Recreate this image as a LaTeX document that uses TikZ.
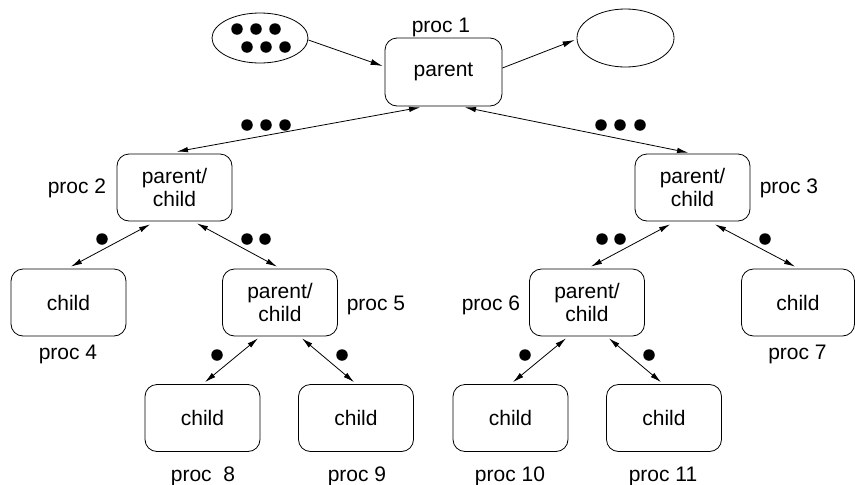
\documentclass[tikz,border=0pt]{standalone}
\usepackage{fontspec}
\setmainfont{Liberation Sans}
\usetikzlibrary{shapes.geometric,arrows.meta}
\tikzset{
  box/.style={draw, rounded corners=12pt, minimum width=115pt, minimum height=67pt,
    inner sep=0pt, align=center, font=\fontsize{21}{23}\selectfont},
  oval/.style={draw, ellipse, inner sep=0pt},
  lbl/.style={anchor=base, inner sep=0pt, font=\fontsize{21}{23}\selectfont},
  dotn/.style={circle, fill=black, inner sep=0pt, minimum size=11.5pt},
  conn/.style={line width=0.8pt, -{Latex[length=12pt,width=6pt]}},
  bconn/.style={line width=0.8pt, {Latex[length=11pt,width=5.5pt]}-{Latex[length=11pt,width=5.5pt]}}
}
\begin{document}
\begin{tikzpicture}[x=1pt,y=-1pt, line width=0.8pt]
\useasboundingbox (0,0) rectangle (855,485);
% ellipses
\node[oval, minimum width=96pt, minimum height=50pt] (e1) at (260,38) {};
\node[oval, minimum width=97pt, minimum height=58pt] (e2) at (625.5,38) {};
\foreach \x/\y [count=\i] in {237/29,256/29,275/29,247/47,266/47,285/47}
  \node[dotn] (ed\i) at (\x,\y) {};
% boxes
\node[box, minimum width=117pt, minimum height=68pt] (root) at (443.5,72) {parent};
\node[box] (p2) at (174.5,187.5) {parent/\\child};
\node[box] (p3) at (692.5,187.5) {parent/\\child};
\node[box] (p4) at (68.5,302.5) {child};
\node[box] (p5) at (280,302.5) {parent/\\child};
\node[box] (p6) at (587,302.5) {parent/\\child};
\node[box, minimum width=113pt] (p7) at (798,302.5) {child};
\node[box] (p8) at (202.5,418) {child};
\node[box] (p9) at (356,418) {child};
\node[box] (p10) at (510.5,418) {child};
\node[box] (p11) at (664,418) {child};
% labels
\node[lbl] (l1) at (441,32) {proc 1};
\node[lbl] (l2) at (77,193) {proc 2};
\node[lbl] (l3) at (789,193) {proc 3};
\node[lbl] (l4) at (68,359) {proc 4};
\node[lbl] (l5) at (376,310) {proc 5};
\node[lbl] (l6) at (491,310) {proc 6};
\node[lbl] (l7) at (797.5,359) {proc 7};
\node[lbl] (l8) at (203,481) {proc~~8};
\node[lbl] (l9) at (357,481) {proc 9};
\node[lbl] (l10) at (510,481) {proc 10};
\node[lbl] (l11) at (663,481) {proc 11};
% top arrows
\draw[conn] ([yshift=-2pt]e1.east) -- ([xshift=-2pt,yshift=6pt]root.west);
\draw[conn] ([yshift=4pt]root.east) -- ([xshift=-2pt,yshift=-2pt]e2.west);
% tree connectors
\draw[bconn] ([xshift=2.5pt,yshift=2pt]p2.north) -- ([xshift=-23.5pt,yshift=-1pt]root.south);
\draw[bconn] ([xshift=-4.5pt,yshift=1pt]p3.north) -- ([xshift=21.5pt,yshift=-1pt]root.south);
\draw[bconn] ([xshift=-24.5pt,yshift=-3pt]p2.south) -- ([xshift=2.5pt,yshift=2pt]p4.north);
\draw[bconn] ([xshift=22.5pt,yshift=-2pt]p2.south) -- ([xshift=-3pt,yshift=2pt]p5.north);
\draw[bconn] ([xshift=-22.5pt,yshift=-3pt]p3.south) -- ([xshift=4pt,yshift=2pt]p6.north);
\draw[bconn] ([xshift=22.5pt,yshift=-3pt]p3.south) -- ([xshift=-3pt,yshift=2pt]p7.north);
\draw[bconn] ([xshift=-22pt,yshift=-2pt]p5.south) -- ([xshift=2.5pt,yshift=2pt]p8.north);
\draw[bconn] ([xshift=22pt,yshift=-2pt]p5.south) -- ([xshift=-2pt,yshift=2pt]p9.north);
\draw[bconn] ([xshift=-21pt,yshift=-2pt]p6.south) -- ([xshift=2.5pt,yshift=2pt]p10.north);
\draw[bconn] ([xshift=22pt,yshift=-2pt]p6.south) -- ([xshift=-3pt,yshift=2pt]p11.north);
% dots on connectors
\foreach \x/\y [count=\i] in {247/125,266/125,285/125,601/125,620/125,640/125,
  102/239,247/239,265/239,602/239,620/239,765/239,
  217/355,342/355,525/355,649/355}
  \node[dotn] (d\i) at (\x,\y) {};
\end{tikzpicture}
\end{document}
